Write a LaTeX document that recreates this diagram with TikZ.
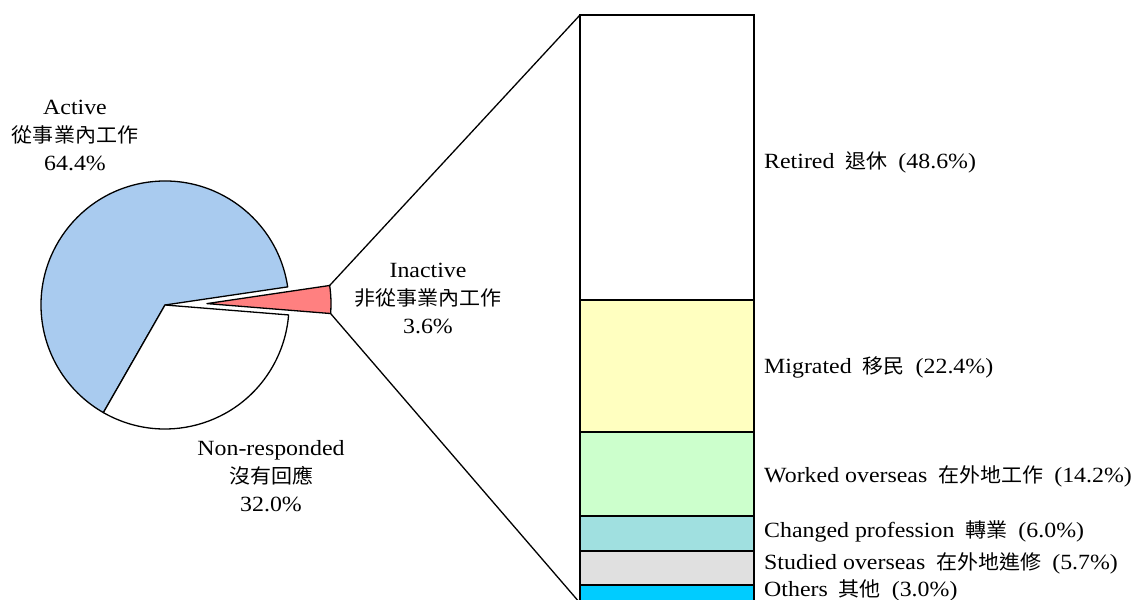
\documentclass[tikz,border=0pt]{standalone}
\usepackage{fontspec}
\setmainfont[FakeStretch=1.1]{Liberation Serif}
\newfontfamily\cjk[FakeStretch=1.05]{Noto Sans CJK TC}
\newcommand{\zh}[1]{{\cjk\fontsize{20}{28}\selectfont #1}}
\newcommand{\gap}{\hspace{11pt}}
\definecolor{activecol}{HTML}{A9CBEF}
\definecolor{inactivecol}{HTML}{FF8080}
\definecolor{migratedcol}{HTML}{FFFFC0}
\definecolor{overseascol}{HTML}{CCFFCC}
\definecolor{changedcol}{HTML}{A0E0E0}
\definecolor{studiedcol}{HTML}{E0E0E0}
\definecolor{otherscol}{HTML}{00CCFF}
\tikzset{
	slice/.style={draw,line width=1.3pt,line join=round},
	seg/.style={draw,line width=1.3pt},
	pielabel/.style={align=center,inner sep=0pt,font=\fontsize{21.7}{28}\selectfont},
	barlabel/.style={anchor=base west,inner sep=0pt,font=\fontsize{21.7}{28}\selectfont}
}
\begin{document}
\begin{tikzpicture}[x=1pt,y=1pt]
	\useasboundingbox (0,0) rectangle (1139,599);
	\path 
		(165,294) coordinate (C)
		(207,295.4) coordinate (CI)
		(CI) ++(8.4:124) coordinate (I1)
		(CI) ++(-4.6:124) coordinate (I2)
		(580,584) coordinate (B1)
		(580,-4) coordinate (B2)
		;
	
	% pie
	\draw[slice,fill=activecol] (C) -- ++(8.4:124) arc (8.4:240.2:124) -- cycle;
	\draw[slice,fill=white] (C) -- ++(240.2:124) arc (240.2:355.4:124) -- cycle;
	\draw[slice,fill=inactivecol] (CI) -- (I2) arc (-4.6:8.4:124) -- cycle;
	
	% bar
	\draw[seg,fill=white] (580,584) rectangle (754,299);
	\draw[seg,fill=migratedcol] (580,299) rectangle (754,167);
	\draw[seg,fill=overseascol] (580,167) rectangle (754,83);
	\draw[seg,fill=changedcol] (580,83) rectangle (754,48);
	\draw[seg,fill=studiedcol] (580,48) rectangle (754,14);
	\draw[seg,fill=otherscol] (580,14) rectangle (754,-4);
	
	\draw[line width=1.3pt] 
		(I1) -- (B1)
		(I2) -- (B2)
	;
	
	\path 
		(75,464) node[pielabel] (active) {Active\\\zh{從事業內工作}\\64.4\%}
		(428,301) node[pielabel] (inactive) {Inactive\\\zh{非從事業內工作}\\3.6\%}
		(271,123) node[pielabel] (nonresp) {Non-responded\\\zh{沒有回應}\\32.0\%}
		(764,430) node[barlabel] (retired) {Retired\gap\zh{退休}\gap(48.6\%)}
		(764,225) node[barlabel] (migrated) {Migrated\gap\zh{移民}\gap(22.4\%)}
		(764,116) node[barlabel] (worked) {Worked overseas\gap\zh{在外地工作}\gap(14.2\%)}
		(764,61) node[barlabel] (changed) {Changed profession\gap\zh{轉業}\gap(6.0\%)}
		(764,29) node[barlabel] (studied) {Studied overseas\gap\zh{在外地進修}\gap(5.7\%)}
		(764,2) node[barlabel] (others) {Others\gap\zh{其他}\gap(3.0\%)}
		;
\end{tikzpicture}
\end{document}
